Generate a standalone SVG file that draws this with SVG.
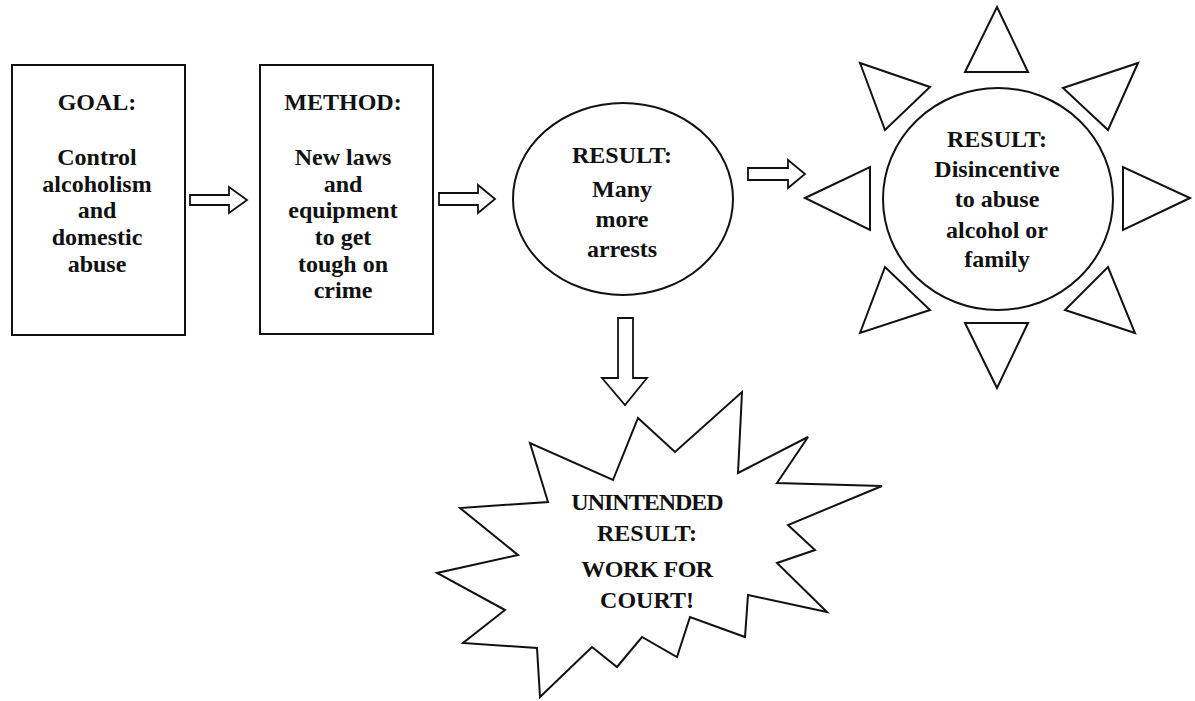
<svg xmlns="http://www.w3.org/2000/svg" width="1195" height="701" viewBox="0 0 1195 701">
  <style>
    .shape { fill: #ffffff; stroke: #111111; stroke-width: 2; stroke-linejoin: miter; }
    .arrow { fill: #ffffff; stroke: #111111; stroke-width: 1.8; stroke-linejoin: miter; }
    .label { font-family: "Liberation Serif", serif; font-weight: bold; font-size: 24px; fill: #111111; text-anchor: middle; }
  </style>
  <rect width="1195" height="701" fill="#ffffff"/>

  <!-- block arrows between stages -->
  <g id="connectors">
    <path class="arrow" d="M190,195 H229 V187 L247,200 L229,213 V205 H190 Z"/>
    <path class="arrow" d="M439,193 H478 V185 L495,199 L478,213 V205 H439 Z"/>
    <path class="arrow" d="M748,168 H788 V160 L805,174 L788,188 V180 H748 Z"/>
    <path class="arrow" d="M618,318 H633 V378 H647 L625,405 L602,378 H618 Z"/>
  </g>

  <g id="goal">
    <rect class="shape" x="12" y="65" width="173" height="270"/>
    <text class="label" x="97" y="110">GOAL:</text>
    <text class="label" x="97" y="165">Control</text>
    <text class="label" x="97" y="192">alcoholism</text>
    <text class="label" x="97" y="218">and</text>
    <text class="label" x="97" y="245">domestic</text>
    <text class="label" x="97" y="272">abuse</text>
  </g>

  <g id="method">
    <rect class="shape" x="260" y="65" width="173" height="269"/>
    <text class="label" x="343" y="110">METHOD:</text>
    <text class="label" x="343" y="165">New laws</text>
    <text class="label" x="343" y="192">and</text>
    <text class="label" x="343" y="218">equipment</text>
    <text class="label" x="343" y="245">to get</text>
    <text class="label" x="343" y="272">tough on</text>
    <text class="label" x="343" y="298">crime</text>
  </g>

  <g id="result-arrests">
    <ellipse class="shape" cx="623" cy="199" rx="110" ry="96"/>
    <text class="label" x="622" y="163">RESULT:</text>
    <text class="label" x="622" y="197">Many</text>
    <text class="label" x="622" y="227">more</text>
    <text class="label" x="622" y="257">arrests</text>
  </g>

  <g id="result-disincentive">
    <ellipse class="shape" cx="998" cy="199" rx="115" ry="111"/>
    <polygon class="shape" points="997,7 1028,72 965,72"/>
    <polygon class="shape" points="1138,63 1108,130 1063,88"/>
    <polygon class="shape" points="1190,198 1123,230 1123,167"/>
    <polygon class="shape" points="1135,333 1065,310 1108,267"/>
    <polygon class="shape" points="997,388 965,323 1028,323"/>
    <polygon class="shape" points="860,333 885,267 930,310"/>
    <polygon class="shape" points="805,198 870,167 870,230"/>
    <polygon class="shape" points="860,63 930,87 885,130"/>
    <text class="label" x="997" y="147">RESULT:</text>
    <text class="label" x="997" y="177">Disincentive</text>
    <text class="label" x="997" y="207">to abuse</text>
    <text class="label" x="997" y="238">alcohol or</text>
    <text class="label" x="997" y="267">family</text>
  </g>

  <g id="unintended-result">
    <polygon class="shape" points="638,418 675,452 742,392 738,473 808,437 777,483 882,486 788,525 815,550 777,563 827,612 748,595 745,637 690,617 677,657 642,637 617,667 592,647 540,697 537,648 463,643 505,610 437,573 518,555 460,508 548,502 530,443 613,480"/>
    <text class="label" x="647" y="510" letter-spacing="-1">UNINTENDED</text>
    <text class="label" x="647" y="541">RESULT:</text>
    <text class="label" x="647" y="577" letter-spacing="-0.5">WORK FOR</text>
    <text class="label" x="647" y="608">COURT!</text>
  </g>
</svg>
